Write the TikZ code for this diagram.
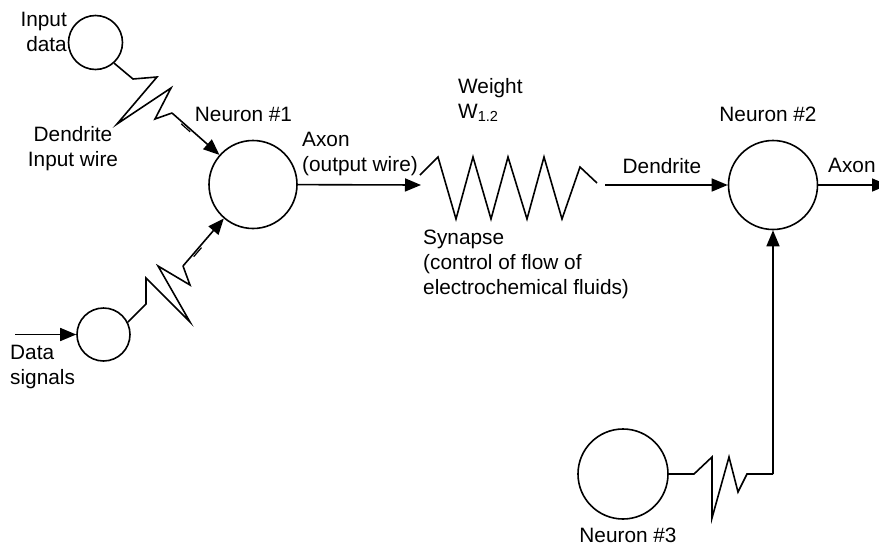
\documentclass[tikz,border=0pt]{standalone}
\usepackage{fontspec}
\setmainfont{Liberation Sans}
\usetikzlibrary{arrows.meta,calc}
\tikzset{
  neuron/.style={draw, circle, line width=1.6pt, inner sep=0pt},
  wire/.style={line width=1.6pt, line join=miter},
  arr/.style={wire, -{Triangle[length=16pt,width=13pt]}},
  lbl/.style={inner sep=0pt, font=\fontsize{20.8}{25}\selectfont},
  tick/.style={line width=1.2pt}
}
\begin{document}
\begin{tikzpicture}[x=1pt,y=-1pt]
\useasboundingbox (0,0) rectangle (879,555);
% circles
\node[neuron, minimum size=54pt] (in1) at (95.5,42.5) {};
\node[neuron, minimum size=53pt] (in2) at (103.5,334.5) {};
\node[neuron, minimum size=88pt] (n1) at (253,184.5) {};
\node[neuron, minimum size=89pt] (n2) at (773,185) {};
\node[neuron, minimum size=90pt] (n3) at (623,474) {};
% free ends
\coordinate (dsin) at (15,334.5);
\coordinate (axtip) at (421,185);
\coordinate (dnst) at (605,185);
\coordinate (axout) at (888,185);
\coordinate (z1) at (172,113);
\coordinate (z2) at (183,266);
\coordinate (z3) at (773,474);
% upper dendrite
\draw[wire] (in1.-48) -- (133,79) -- (157,77) -- (117,124) -- (171,88) -- (155,119) -- (z1);
\draw[arr] (z1) -- (n1);
\draw[tick] (181.2,123.8) -- (190.1,131.8);
% lower dendrite
\draw[wire] (in2.27) -- (146,304) -- (146,278) -- (190,322) -- (158,266) -- (190,285) -- (z2);
\draw[arr] (z2) -- (n1);
\draw[tick] (193.7,256.7) -- (201.5,247.6);
% data signals
\draw[arr] (dsin) -- (in2);
% axon 1
\draw[arr] (n1) -- (axtip);
% synapse
\draw[wire] (420,175) -- (438,157) -- (456,219) -- (473,157) -- (491,219) -- (508,157) -- (527,219) -- (544,157) -- (562,219) -- (580,167) -- (597,183);
% dendrite to n2
\draw[arr] (dnst) -- (n2);
% axon out
\draw[arr] (n2) -- (axout);
% neuron 3 to n2
\draw[wire] (n3.east) -- (694,474) -- (712,457) -- (712,518) -- (729,457) -- (738,492) -- (747,474) -- (z3);
\draw[arr] (z3) -- (n2.south);
% labels
\node[lbl, align=right, anchor=north east] (tin) at (67,12) {Input\\data};
\node[lbl, align=center, anchor=north] (tden) at (73,126) {Dendrite\\Input wire};
\node[lbl, align=left, anchor=north west] (tds) at (10,345) {Data\\signals};
\node[lbl, anchor=north] (tn1) at (243.5,107) {Neuron \#1};
\node[lbl, align=left, anchor=north west] (tax) at (302,132) {Axon\\(output wire)};
\node[lbl, align=left, anchor=north west] (tw) at (458,78) {Weight\\W\textsubscript{1.2}};
\node[lbl, align=left, anchor=north west] (tsyn) at (423,230) {Synapse\\(control of flow of\\electrochemical fluids)};
\node[lbl, anchor=north] (tden2) at (662,158) {Dendrite};
\node[lbl, anchor=north] (tn2) at (768,107) {Neuron \#2};
\node[lbl, anchor=north west] (tax2) at (828,158) {Axon};
\node[lbl, anchor=north] (tn3) at (628,528) {Neuron \#3};
\end{tikzpicture}
\end{document}
